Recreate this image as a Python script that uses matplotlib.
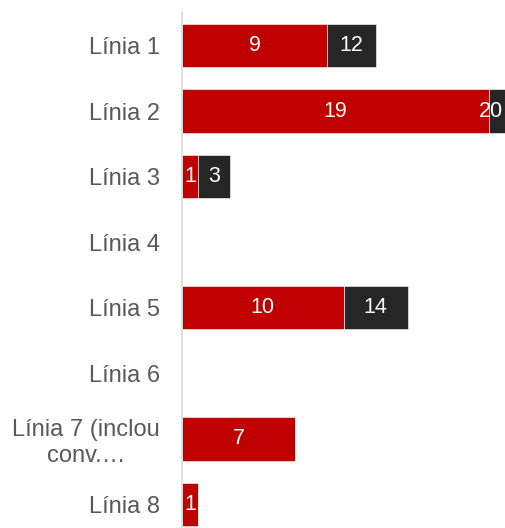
import matplotlib
matplotlib.use('Agg')
import matplotlib.pyplot as plt
import numpy as np

# dades
linies = ['Línia 1', 'Línia 2', 'Línia 3', 'Línia 4', 'Línia 5', 'Línia 6',
          'Línia 7 (inclou\nconv.…', 'Línia 8']
primer = [9, 19, 1, 0, 10, 0, 7, 1]
total = [12, 20, 3, 0, 14, 0, 7, 1]

vermell = '#C00000'
negre = '#262626'

plt.rcParams['font.family'] = ['Liberation Sans', 'DejaVu Sans']

fig = plt.figure(figsize=(5.05, 5.28), dpi=100)
ax = fig.add_axes([0.3604, -0.0176, 0.6396, 0.9935])

y = np.arange(len(linies))
primer = np.array(primer)
resta = np.array(total) - primer

b1 = ax.barh(y, primer, height=0.66, color=vermell, edgecolor='white', linewidth=0.4)
b2 = ax.barh(y, resta, left=primer, height=0.66, color=negre, edgecolor='white', linewidth=0.4)

xmax = 20
ax.set_xlim(0, xmax)

ax.bar_label(b1, labels=[str(v) if v > 0 else '' for v in primer],
             label_type='center', color='white', fontsize=15.5)
# si l'etiqueta toca la vora, es desplaça cap a dins
dins = [str(t) if (r > 0 and t < xmax) else '' for t, r in zip(total, resta)]
ax.bar_label(b2, labels=dins, label_type='center', color='white', fontsize=15.5)
for t, r, yi in zip(total, resta, y):
    if r > 0 and t >= xmax:
        ax.annotate(str(t), xy=(xmax, yi), xytext=(-1.5, 0), textcoords='offset points',
                    ha='right', va='center', color='white', fontsize=15.5,
                    annotation_clip=False)

ax.set_ylim(len(linies) - 0.5, -0.5)
ax.set_yticks(y)
ax.set_yticklabels(linies, fontsize=17, color='#595959', multialignment='center')
ax.tick_params(axis='y', length=0, pad=16)
ax.set_xticks([])
for s in ['top', 'right', 'bottom']:
    ax.spines[s].set_visible(False)
ax.spines['left'].set_color('#d9d9d9')
ax.spines['left'].set_linewidth(1.2)

fig.savefig('out.png', dpi=100)
